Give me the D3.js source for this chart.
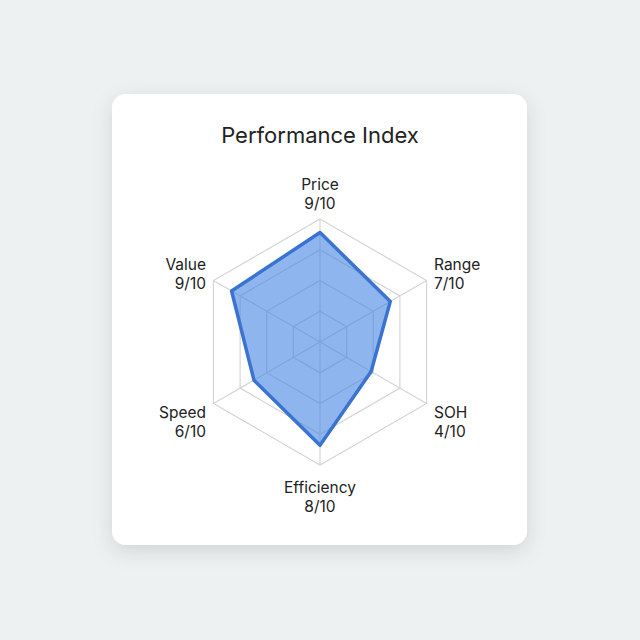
<!DOCTYPE html>
<html>
<head>
<meta charset="utf-8">
<script src="https://cdn.jsdelivr.net/npm/d3@7"></script>
<style>
  html, body { margin: 0; padding: 0; background: #eef1f2; }
  svg { display: block; font-family: Inter, "Noto Sans", sans-serif; }
</style>
</head>
<body>
<svg id="chart" width="640" height="640"></svg>
<script>
'use strict';

var axes = ["Price", "Range", "SOH", "Efficiency", "Speed", "Value"];
var scores = [9, 7, 4, 8, 6, 9];          // the x/10 labels
var plotted = [8.9, 6.6, 4.8, 8.4, 6.2, 8.3]; // where the shape's corners sit
var levels = [2.5, 5, 7.5, 10];
var maxScore = 10;

var W = 640, H = 640;
var cx = 320, cy = 342, R = 123;

var svg = d3.select('#chart');

var defs = svg.append('defs');
var sh = defs.append('filter').attr('id', 'shadow')
	.attr('x', '-20%').attr('y', '-20%').attr('width', '140%').attr('height', '140%');
sh.append('feDropShadow').attr('dx', 0).attr('dy', 6).attr('stdDeviation', 10)
	.attr('flood-color', '#000').attr('flood-opacity', 0.12);

// card
svg.append('rect')
	.attr('x', 112).attr('y', 94).attr('width', 415).attr('height', 451)
	.attr('rx', 14).attr('fill', '#ffffff')
	.attr('filter', 'url(#shadow)');

svg.append('text')
	.attr('x', 320).attr('y', 143)
	.attr('text-anchor', 'middle')
	.attr('font-size', 22)
	.attr('fill', '#222')
	.text('Performance Index');

var r = d3.scaleLinear().domain([0, maxScore]).range([0, R]);
var angle = d3.scalePoint().domain(d3.range(axes.length + 1)).range([0, 2 * Math.PI]);

function pt(i, v) {
	var a = angle(i);
	return [cx + r(v) * Math.sin(a), cy - r(v) * Math.cos(a)];
}

var g = svg.append('g');

// grid rings
var ringLine = d3.line();
g.selectAll('.ring').data(levels).enter().append('path')
	.attr('class', 'ring')
	.attr('d', function (lv) {
		return ringLine(axes.map(function (a, i) { return pt(i, lv); })) + 'Z';
	})
	.attr('fill', 'none')
	.attr('stroke', '#d5d5d5')
	.attr('stroke-width', 1.2);

// spokes
g.selectAll('.spoke').data(axes).enter().append('line')
	.attr('class', 'spoke')
	.attr('x1', cx).attr('y1', cy)
	.attr('x2', function (d, i) { return pt(i, maxScore)[0]; })
	.attr('y2', function (d, i) { return pt(i, maxScore)[1]; })
	.attr('stroke', '#d5d5d5')
	.attr('stroke-width', 1.2);

// data shape
var radar = d3.lineRadial()
	.angle(function (d, i) { return angle(i); })
	.radius(function (d) { return r(d); })
	.curve(d3.curveLinearClosed);

g.append('path')
	.datum(plotted)
	.attr('transform', 'translate(' + cx + ',' + cy + ')')
	.attr('d', radar)
	.attr('fill', '#4584e2')
	.attr('fill-opacity', 0.6)
	.attr('stroke', '#3a74d0')
	.attr('stroke-width', 3.5)
	.attr('stroke-linejoin', 'round');

// labels
var labelPos = [
	{ x: 320, y: 190, anchor: 'middle' },
	{ x: 434, y: 270, anchor: 'start' },
	{ x: 434, y: 418, anchor: 'start' },
	{ x: 320, y: 493, anchor: 'middle' },
	{ x: 206, y: 418, anchor: 'end' },
	{ x: 206, y: 270, anchor: 'end' }
];

var lab = svg.selectAll('.lab').data(axes).enter().append('text')
	.attr('class', 'lab')
	.attr('text-anchor', function (d, i) { return labelPos[i].anchor; })
	.attr('font-size', 15.5)
	.attr('fill', '#222');

lab.append('tspan')
	.attr('x', function (d, i) { return labelPos[i].x; })
	.attr('y', function (d, i) { return labelPos[i].y; })
	.text(function (d) { return d; });
lab.append('tspan')
	.attr('x', function (d, i) { return labelPos[i].x; })
	.attr('y', function (d, i) { return labelPos[i].y + 19; })
	.text(function (d, i) { return scores[i] + '/' + maxScore; });
</script>
</body>
</html>
